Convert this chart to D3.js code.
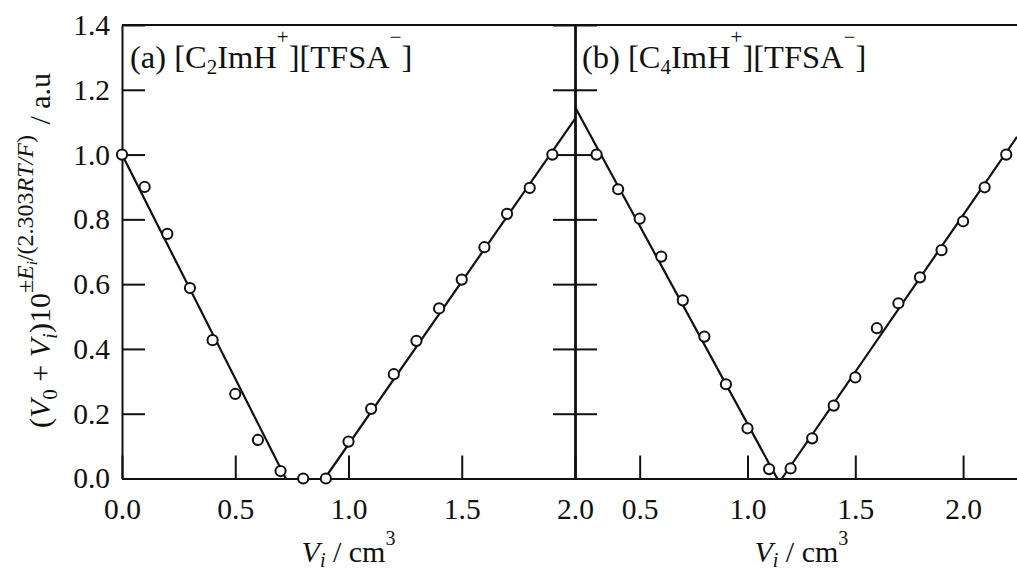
<!DOCTYPE html>
<meta charset="utf-8">

<script src="https://d3js.org/d3.v7.min.js"></script>

<style type="text/css">
  body { margin: 0; background: #fff; }
  svg { display: block; font-family: "Liberation Serif", "Times New Roman", serif; }
  .axis path, .axis line { stroke: #111; stroke-width: 2; }
  .axis text { font-size: 29.5px; fill: #111; font-family: "Liberation Serif", serif; }
  .fit { fill: none; stroke: #111; stroke-width: 2.2; }
  .pt { fill: #fff; stroke: #111; stroke-width: 2; }
  .lbl { font-size: 30px; fill: #111; }
  .note { font-size: 32.5px; fill: #111; }
</style>

<body>
</body>

<script>

  // panel (a) [C2ImH+][TFSA-]
  let vA = [0.0, 0.1, 0.2, 0.3, 0.4, 0.5, 0.6, 0.7, 0.8, 0.9,
            1.0, 1.1, 1.2, 1.3, 1.4, 1.5, 1.6, 1.7, 1.8, 1.9];
  let yA = [1.0, 0.90, 0.755, 0.588, 0.427, 0.261, 0.119, 0.023, 0.0, 0.0,
            0.114, 0.215, 0.322, 0.425, 0.525, 0.614, 0.714, 0.817, 0.897, 1.0];
  let fitA = [[[0.0, 1.0], [0.723, 0.0]], [[0.895, 0.0], [2.0, 1.11]]];

  // panel (b) [C4ImH+][TFSA-]
  let vB = [0.3, 0.4, 0.5, 0.6, 0.7, 0.8, 0.9, 1.0, 1.1, 1.2,
            1.3, 1.4, 1.5, 1.6, 1.7, 1.8, 1.9, 2.0, 2.1, 2.2];
  let yB = [1.0, 0.893, 0.802, 0.685, 0.55, 0.438, 0.291, 0.155, 0.029, 0.031,
            0.124, 0.225, 0.312, 0.464, 0.541, 0.621, 0.705, 0.794, 0.899, 1.0];
  let fitB = [[[0.2, 1.147], [1.138, 0.0]], [[1.16, 0.0], [2.25, 1.055]]];

  let yTicks = [0.0, 0.2, 0.4, 0.6, 0.8, 1.0, 1.2, 1.4];
  let xTicksA = [0.0, 0.5, 1.0, 1.5, 2.0];
  let xTicksB = [0.5, 1.0, 1.5, 2.0];

  let W = 1017, H = 572;
  let margin = { top: 25, left: 122, split: 575, bottom: 478.5 };

  let svg = d3.select("body").append("svg")
    .attr("width", W)
    .attr("height", H);

  let yScale = d3.scaleLinear().domain([0, 1.4]).range([margin.bottom, margin.top]);
  let xA = d3.scaleLinear().domain([0, 2]).range([margin.left, margin.split]);
  let xB = d3.scaleLinear().domain([0.2, 2.25]).range([margin.split, W]);

  // bottom axes, ticks pointing inward
  svg.append('g')
    .attr('class', 'x axis')
    .attr('transform', `translate(0, ${margin.bottom})`)
    .call(d3.axisBottom(xA).tickValues(xTicksA).tickSize(-23).tickSizeOuter(0)
      .tickPadding(20).tickFormat(d3.format('.1f')));

  svg.append('g')
    .attr('class', 'x axis')
    .attr('transform', `translate(0, ${margin.bottom})`)
    .call(d3.axisBottom(xB).tickValues(xTicksB).tickSize(-23).tickSizeOuter(0)
      .tickPadding(20).tickFormat(d3.format('.1f')));

  // left y axis
  svg.append('g')
    .attr('class', 'y axis')
    .attr('transform', `translate(${margin.left}, 0)`)
    .call(d3.axisLeft(yScale).tickValues(yTicks).tickSize(-23).tickSizeOuter(0)
      .tickPadding(12).tickFormat(d3.format('.1f')));

  // middle divider with ticks on both sides
  svg.append('g')
    .attr('class', 'y axis')
    .attr('transform', `translate(${margin.split}, 0)`)
    .call(d3.axisLeft(yScale).tickValues(yTicks).tickSize(22).tickSizeOuter(0).tickFormat(''));
  svg.append('g')
    .attr('class', 'y axis divider')
    .attr('transform', `translate(${margin.split}, 0)`)
    .call(d3.axisRight(yScale).tickValues(yTicks).tickSize(22).tickSizeOuter(0).tickFormat(''));
  svg.select('.divider path').style('stroke-width', 2.6);

  // top frame line
  svg.append('line')
    .attr('x1', margin.left).attr('x2', W)
    .attr('y1', yScale(1.4)).attr('y2', yScale(1.4))
    .attr('stroke', '#111').attr('stroke-width', 2);

  let line = d3.line();

  function panel(xs, vs, ys, fits) {
    let g = svg.append('g');
    g.selectAll('.fit')
      .data(fits).enter().append('path')
      .attr('class', 'fit')
      .attr('d', f => line(f.map(p => [xs(p[0]), yScale(p[1])])));
    g.selectAll('.pt')
      .data(vs.map((v, i) => ({ v: v, y: ys[i] }))).enter().append('circle')
      .attr('class', 'pt')
      .attr('cx', d => xs(d.v))
      .attr('cy', d => yScale(d.y))
      .attr('r', 5.1);
  }

  panel(xA, vA, yA, fitA);
  panel(xB, vB, yB, fitB);

  // panel titles
  function note(x, num) {
    let t = svg.append('text').attr('class', 'note').attr('x', x).attr('y', 68);
    t.append('tspan').text(num[0]);
    t.append('tspan').attr('font-size', 21).attr('dy', 6).text(num[1]);
    t.append('tspan').attr('dy', -6).text('ImH');
    t.append('tspan').attr('font-size', 21).attr('dy', -24).text('+');
    t.append('tspan').attr('dy', 24).text('][TFSA');
    t.append('tspan').attr('font-size', 21).attr('dy', -24).text('\u2212');
    t.append('tspan').attr('dy', 24).text(']');
  }
  note(130, ['(a) [C', '2']);
  note(582, ['(b) [C', '4']);

  // x labels
  function xLabel(x) {
    let t = svg.append('text').attr('class', 'lbl')
      .attr('x', x).attr('y', 562).attr('text-anchor', 'middle');
    t.append('tspan').attr('font-style', 'italic').text('V');
    t.append('tspan').attr('font-style', 'italic').attr('font-size', 20).attr('dy', 5).text('i');
    t.append('tspan').attr('dy', -5).text(' / cm');
    t.append('tspan').attr('font-size', 20).attr('dy', -17).text('3');
  }
  xLabel(xA(1.0));
  xLabel(xB(1.25));

  // y label, drawn from the bottom up
  let yl = svg.append('text').attr('class', 'lbl')
    .attr('font-size', 31)
    .attr('transform', `translate(50, 428) rotate(-90)`);
  yl.append('tspan').text('(');
  yl.append('tspan').attr('font-style', 'italic').text('V');
  yl.append('tspan').attr('font-size', 21).attr('dy', 7).text('0');
  yl.append('tspan').attr('dy', -7).text(' + ');
  yl.append('tspan').attr('font-style', 'italic').text('V');
  yl.append('tspan').attr('font-style', 'italic').attr('font-size', 21).attr('dy', 7).text('i');
  yl.append('tspan').attr('dy', -7).text(')10');
  yl.append('tspan').attr('font-size', 24).attr('dy', -17).text('\u00b1');
  yl.append('tspan').attr('font-size', 24).attr('font-style', 'italic').text('E');
  yl.append('tspan').attr('font-size', 15).attr('font-style', 'italic').attr('dy', 4).text('i');
  yl.append('tspan').attr('font-size', 24).attr('dy', -4).text('/(2.303');
  yl.append('tspan').attr('font-size', 24).attr('font-style', 'italic').text('RT/F');
  yl.append('tspan').attr('font-size', 24).text(')');
  yl.append('tspan').attr('dy', 17).attr('dx', 3).text(' / a.u');

</script>
